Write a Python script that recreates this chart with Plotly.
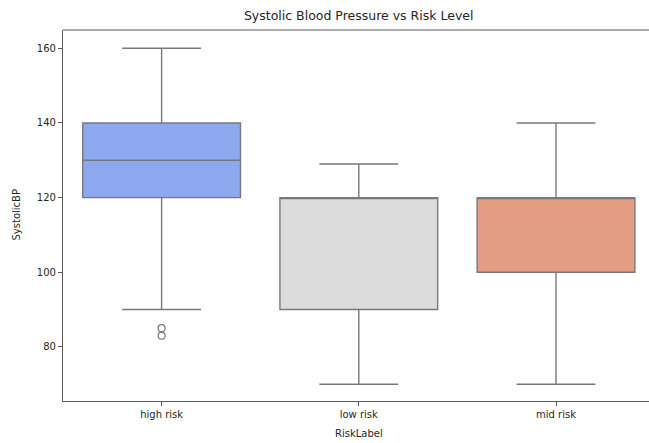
import plotly.graph_objects as go

categories = ["high risk", "low risk", "mid risk"]
q1 = [120, 90, 100]
median = [130, 120, 120]
q3 = [140, 120, 120]
lower_whisker = [90, 70, 70]
upper_whisker = [160, 129, 140]
outlier_cat = ["high risk", "high risk"]
outlier_vals = [83, 85]
fill_colors = ["rgb(141,168,238)", "rgb(220,220,220)", "rgb(228,156,131)"]
yticks = [80, 100, 120, 140, 160]

line_col = "rgb(120,120,120)"
text_col = "#262626"
spine_col = "rgb(90,90,90)"

fig = go.Figure()
for i, c in enumerate(categories):
    fig.add_trace(go.Box(
        x=[c], q1=[q1[i]], median=[median[i]], q3=[q3[i]],
        lowerfence=[lower_whisker[i]], upperfence=[upper_whisker[i]],
        fillcolor=fill_colors[i], line=dict(color=line_col, width=1.4),
        width=0.8, whiskerwidth=0.5, boxpoints=False, showlegend=False,
        hoverinfo="skip",
    ))

fig.add_trace(go.Scatter(
    x=outlier_cat, y=outlier_vals, mode="markers",
    marker=dict(symbol="circle-open", size=7, color=line_col, line=dict(width=1.2, color=line_col)),
    showlegend=False, hoverinfo="skip",
))

fig.update_layout(
    width=649, height=443,
    margin=dict(l=63, r=0, t=30, b=42),
    paper_bgcolor="white", plot_bgcolor="white",
    boxmode="overlay",
    font=dict(family="DejaVu Sans", size=10, color=text_col),
    title=dict(text="Systolic Blood Pressure vs Risk Level", xref="container", x=358.7/649,
               xanchor="center", y=1-16/443, yanchor="middle",
               font=dict(family="DejaVu Sans", size=12.5, color=text_col)),
    xaxis=dict(type="category", categoryorder="array", categoryarray=categories,
               range=[-0.5, 2.4716], showline=True, linecolor=spine_col, linewidth=1.2,
               mirror=False, ticks="outside", ticklen=4, tickcolor=spine_col,
               showgrid=False, zeroline=False, tickfont=dict(size=10, color=text_col)),
    yaxis=dict(range=[65.5, 164.9], tickvals=yticks, showline=True, linecolor=spine_col,
               linewidth=1.2, mirror=False, ticks="outside", ticklen=4, tickcolor=spine_col,
               showgrid=False, zeroline=False, tickfont=dict(size=10, color=text_col)),
    shapes=[dict(type="line", xref="paper", yref="paper", x0=0, x1=1.01, y0=1, y1=1,
                 line=dict(color=spine_col, width=1.2))],
    annotations=[
        dict(text="RiskLabel", xref="paper", yref="paper", x=(358.7-63)/586, y=-(433-401)/371,
             xanchor="center", yanchor="middle", showarrow=False,
             font=dict(family="DejaVu Sans", size=10, color=text_col)),
        dict(text="SystolicBP", xref="paper", yref="paper", x=-(63-16)/586, y=0.5,
             xanchor="center", yanchor="middle", textangle=-90, showarrow=False,
             font=dict(family="DejaVu Sans", size=10, color=text_col)),
    ],
)

fig.write_html("out.html")
